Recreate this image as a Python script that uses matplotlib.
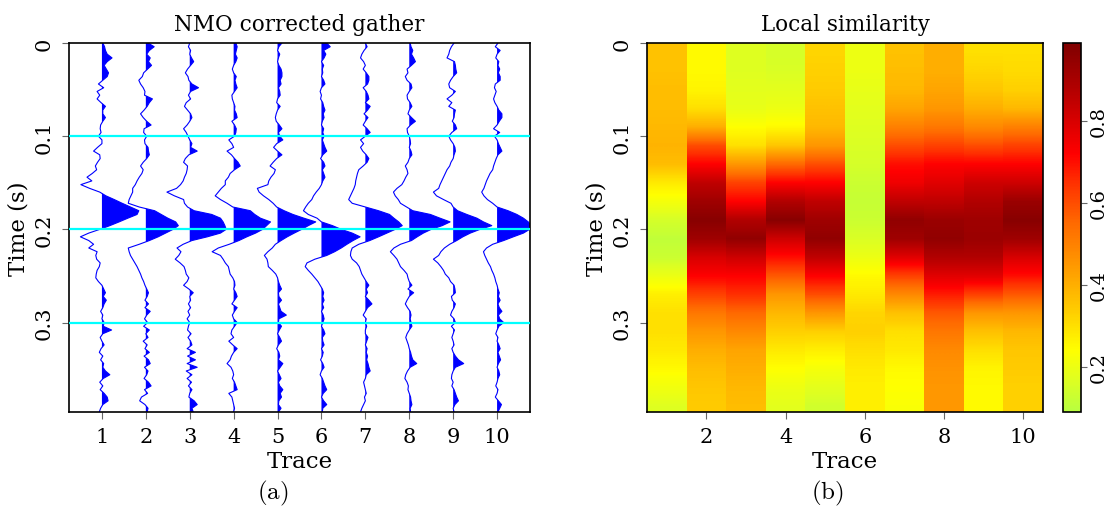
# NMO corrected gather and its local similarity

import numpy as np
import matplotlib.pyplot as plt
from matplotlib.colors import LinearSegmentedColormap

plt.rcParams['font.family'] = 'DejaVu Serif'
plt.rcParams['mathtext.fontset'] = 'cm'

dt = 0.004
ns = 100
t = np.arange(ns) * dt

# trace amplitudes (in units of trace spacing)
tr1 = [0.02, 0.06, 0.08, 0.12, 0.23, 0.12, 0.05, 0.10, 0.15, 0.12,
       0.02, -0.08, 0.04, -0.11, -0.05, -0.11, -0.02, 0.08, 0.02, 0.02,
       0.08, 0.02, -0.03, -0.04, -0.02, -0.08, 0.00, 0.00, -0.10, -0.19,
       -0.05, -0.04, -0.10, -0.15, -0.12, -0.22, -0.34, -0.23, -0.48, -0.28,
       -0.05, 0.09, 0.28, 0.46, 0.65, 0.84, 0.80, 0.59, 0.39, 0.18,
       -0.05, -0.30, -0.49, -0.30, -0.19, -0.30, -0.11, -0.14, -0.12, -0.04,
       -0.06, -0.11, -0.13, -0.14, -0.08, 0.00, 0.04, 0.08, 0.03, 0.10,
       0.05, 0.02, -0.03, 0.02, 0.00, 0.05, 0.03, 0.22, 0.02, -0.04,
       0.00, 0.05, -0.02, -0.06, 0.02, -0.03, 0.04, 0.02, 0.08, 0.18,
       0.03, -0.05, 0.02, -0.04, 0.05, 0.12, 0.14, 0.02, -0.03, -0.06]
tr2 = [0.05, 0.19, 0.08, 0.02, 0.10, 0.06, 0.13, 0.04, -0.05, -0.08,
       -0.16, -0.12, -0.06, -0.02, -0.03, 0.15, 0.08, 0.03, -0.04, -0.12,
       -0.06, 0.02, 0.12, -0.04, -0.05, 0.02, -0.03, -0.02, 0.05, 0.06,
       0.08, 0.02, -0.06, -0.12, -0.06, -0.09, -0.15, -0.20, -0.24, -0.30,
       -0.30, -0.34, -0.38, -0.40, -0.15, 0.20, 0.35, 0.50, 0.68, 0.74,
       0.62, 0.45, 0.28, 0.08, -0.15, -0.40, -0.38, -0.35, -0.30, -0.25,
       -0.20, -0.16, -0.12, -0.09, -0.05, -0.02, 0.02, 0.06, 0.03, -0.02,
       0.06, -0.02, 0.10, 0.02, -0.03, 0.04, -0.05, 0.08, 0.00, 0.05,
       -0.06, 0.03, -0.02, 0.08, -0.04, 0.06, 0.10, -0.03, 0.05, 0.02,
       -0.04, 0.06, 0.12, -0.03, 0.04, -0.10, -0.14, -0.02, 0.05, 0.03]
tr3 = [0.00, -0.03, 0.02, 0.00, 0.04, 0.09, 0.02, -0.05, -0.10, -0.04,
       -0.02, 0.05, 0.20, 0.02, -0.03, 0.02, -0.08, -0.12, -0.05, 0.02,
       0.05, 0.00, -0.06, -0.14, -0.08, -0.04, 0.00, 0.05, 0.02, 0.17,
       -0.02, -0.10, -0.14, -0.05, -0.06, -0.08, -0.12, -0.15, -0.21, -0.30,
       -0.52, -0.35, -0.14, -0.12, -0.05, 0.10, 0.50, 0.70, 0.76, 0.80,
       0.83, 0.70, 0.40, 0.05, -0.15, -0.29, -0.20, -0.25, -0.33, -0.22,
       -0.13, -0.10, -0.08, -0.02, -0.06, -0.14, -0.02, 0.08, 0.00, 0.02,
       -0.03, 0.02, -0.04, 0.00, -0.06, 0.00, -0.03, -0.05, 0.03, -0.04,
       0.02, 0.05, -0.06, 0.13, -0.05, 0.13, -0.06, 0.17, -0.08, 0.05,
       -0.06, 0.04, -0.03, 0.05, 0.00, -0.02, 0.10, 0.17, 0.05, 0.08]
tr4 = [0.05, 0.08, 0.06, 0.04, 0.08, 0.05, 0.00, -0.03, 0.00, 0.06,
       0.03, 0.05, 0.08, 0.02, -0.04, -0.03, 0.00, 0.03, 0.02, 0.06,
       0.08, -0.04, 0.02, 0.06, 0.05, 0.02, -0.11, -0.04, 0.00, -0.15,
       -0.05, 0.02, 0.10, 0.15, 0.02, -0.08, -0.12, -0.19, -0.19, -0.28,
       -0.35, -0.42, -0.30, -0.15, -0.02, 0.38, 0.48, 0.61, 0.84, 0.75,
       0.66, 0.50, 0.30, 0.12, -0.10, -0.35, -0.49, -0.30, -0.24, -0.19,
       -0.12, -0.10, -0.08, -0.02, 0.02, 0.03, 0.00, 0.05, 0.08, 0.02,
       -0.04, 0.08, 0.02, -0.03, 0.00, 0.08, 0.02, -0.04, -0.06, 0.00,
       -0.11, -0.02, 0.08, 0.00, -0.05, -0.08, -0.15, -0.06, -0.02, 0.00,
       -0.03, 0.02, 0.05, 0.08, -0.11, -0.04, -0.02, 0.00, 0.02, 0.00]
tr5 = [0.10, 0.03, 0.00, 0.05, 0.02, 0.00, 0.03, 0.08, 0.10, 0.10,
       0.06, 0.08, 0.02, 0.05, 0.06, 0.00, -0.02, 0.06, 0.00, -0.03,
       -0.05, -0.03, 0.04, 0.10, 0.02, 0.05, 0.12, -0.02, -0.09, 0.00,
       0.10, -0.02, -0.10, -0.17, -0.05, -0.08, -0.15, -0.20, -0.22, -0.46,
       -0.42, -0.32, -0.20, -0.10, -0.02, 0.15, 0.35, 0.60, 0.87, 0.70,
       0.55, 0.38, 0.22, 0.08, -0.05, -0.12, -0.22, -0.30, -0.24, -0.22,
       -0.21, -0.12, -0.04, 0.00, 0.02, 0.05, 0.09, 0.02, 0.03, 0.09,
       0.02, 0.05, 0.08, 0.20, 0.03, 0.02, 0.09, 0.04, 0.00, 0.05,
       0.09, 0.02, -0.02, 0.03, 0.05, 0.02, 0.12, 0.06, 0.00, 0.04,
       0.08, 0.02, 0.05, 0.12, 0.06, 0.09, 0.03, 0.02, 0.08, 0.02]
tr6 = [0.12, 0.20, 0.05, 0.10, 0.06, 0.00, 0.05, 0.02, 0.03, 0.00,
       0.05, 0.08, 0.00, -0.03, 0.00, -0.02, 0.03, 0.05, 0.08, 0.04,
       0.06, 0.02, 0.00, 0.05, 0.03, 0.06, 0.02, 0.05, 0.08, 0.12,
       0.03, -0.02, 0.05, 0.08, 0.02, 0.05, 0.08, 0.03, 0.00, -0.05,
       -0.12, -0.18, -0.22, -0.30, -0.36, -0.41, -0.30, -0.10, 0.00, 0.25,
       0.45, 0.70, 0.88, 0.72, 0.58, 0.45, 0.30, 0.12, -0.15, -0.33,
       -0.37, -0.30, -0.22, -0.15, -0.08, -0.03, 0.02, 0.05, 0.03, 0.06,
       0.02, 0.05, 0.00, 0.04, 0.06, 0.03, 0.00, 0.05, 0.08, 0.02,
       0.03, 0.06, 0.00, 0.04, 0.02, -0.02, 0.03, 0.06, 0.00, -0.03,
       0.02, 0.05, 0.08, 0.12, 0.04, 0.00, 0.05, 0.12, 0.03, 0.02]
tr7 = [0.00, 0.04, -0.03, -0.08, -0.11, -0.04, 0.00, -0.05, 0.02, 0.08,
       0.08, 0.05, -0.05, 0.02, 0.06, 0.08, 0.00, 0.11, 0.05, -0.03,
       0.06, 0.00, -0.05, 0.04, 0.11, 0.00, -0.11, -0.04, -0.11, -0.06,
       0.02, 0.08, 0.04, -0.05, -0.15, -0.18, -0.20, -0.22, -0.23, -0.26,
       -0.30, -0.34, -0.38, -0.30, 0.00, 0.30, 0.55, 0.65, 0.76, 0.84,
       0.68, 0.49, 0.30, 0.10, -0.15, -0.30, -0.33, -0.34, -0.30, -0.20,
       -0.14, -0.11, -0.08, -0.03, 0.02, 0.08, 0.02, 0.05, 0.00, 0.08,
       0.15, 0.05, 0.00, -0.05, 0.02, 0.00, 0.03, 0.00, 0.00, 0.06,
       0.03, 0.00, 0.04, 0.02, 0.05, 0.03, 0.06, 0.08, 0.11, 0.02,
       0.00, -0.04, -0.02, 0.00, 0.02, -0.02, 0.00, -0.04, -0.08, -0.11]
tr8 = [0.02, 0.04, 0.08, 0.05, 0.10, 0.14, 0.05, -0.05, -0.03, -0.09,
       -0.05, 0.04, 0.06, 0.00, -0.05, -0.04, 0.02, 0.06, 0.00, -0.03,
       0.05, 0.14, 0.03, -0.05, -0.04, 0.00, 0.02, 0.03, 0.00, 0.04,
       0.06, 0.00, -0.03, -0.09, -0.05, -0.03, -0.08, -0.12, -0.17, -0.28,
       -0.36, -0.32, -0.25, -0.20, -0.06, 0.08, 0.48, 0.70, 0.93, 0.75,
       0.50, 0.32, 0.18, 0.05, -0.20, -0.35, -0.43, -0.35, -0.28, -0.24,
       -0.20, -0.12, -0.05, -0.03, 0.00, 0.06, -0.03, 0.10, 0.00, -0.05,
       -0.09, -0.04, 0.02, 0.04, 0.02, 0.04, 0.06, 0.00, -0.05, -0.08,
       -0.05, -0.02, 0.00, 0.03, 0.05, 0.08, 0.17, 0.02, -0.04, -0.08,
       -0.10, -0.05, -0.02, -0.03, 0.00, 0.03, 0.04, 0.06, 0.02, 0.03]
tr9 = [0.02, -0.04, -0.08, -0.10, -0.14, 0.03, 0.05, 0.06, 0.08, 0.00,
       -0.06, -0.10, -0.08, 0.05, -0.03, -0.14, -0.03, -0.10, 0.05, 0.03,
       0.02, -0.02, 0.05, 0.08, -0.03, -0.10, -0.06, 0.00, 0.04, 0.05,
       0.02, 0.00, -0.05, -0.08, -0.14, -0.18, -0.22, -0.26, -0.30, -0.33,
       -0.45, -0.38, -0.22, -0.05, 0.00, 0.10, 0.31, 0.54, 0.69, 0.88,
       0.61, 0.39, 0.22, 0.08, -0.08, -0.20, -0.28, -0.33, -0.45, -0.35,
       -0.28, -0.22, -0.18, -0.10, -0.06, 0.02, 0.04, 0.05, -0.04, -0.02,
       0.05, 0.02, -0.03, -0.06, 0.02, 0.05, -0.04, 0.03, 0.00, -0.03,
       0.00, 0.02, -0.03, 0.00, 0.05, 0.12, 0.24, 0.05, 0.00, -0.03,
       -0.04, 0.00, -0.03, 0.02, 0.05, 0.08, 0.12, 0.04, 0.00, 0.02]
tr10 = [0.02, -0.04, 0.07, 0.00, -0.03, 0.04, 0.02, 0.06, 0.03, 0.07,
        0.07, -0.04, -0.06, -0.02, -0.05, -0.08, -0.05, 0.00, 0.04, 0.11,
        0.11, 0.05, 0.00, -0.08, 0.06, -0.06, 0.00, 0.03, 0.07, 0.11,
        0.02, -0.02, -0.05, -0.08, -0.10, -0.16, -0.20, -0.24, -0.27, -0.30,
        -0.35, -0.30, -0.22, -0.10, 0.00, 0.25, 0.45, 0.60, 0.71, 0.78,
        0.74, 0.60, 0.37, 0.15, -0.10, -0.24, -0.31, -0.28, -0.24, -0.20,
        -0.15, -0.12, -0.08, -0.05, -0.03, 0.00, 0.02, 0.05, 0.03, 0.07,
        0.02, 0.05, 0.11, 0.03, 0.06, 0.15, 0.04, 0.00, -0.03, 0.02,
        0.00, 0.04, 0.07, 0.02, 0.05, 0.08, 0.03, 0.00, 0.04, 0.06,
        0.02, 0.00, -0.03, 0.02, 0.00, -0.04, 0.03, 0.10, 0.06, 0.02]
traces = [tr1, tr2, tr3, tr4, tr5, tr6, tr7, tr8, tr9, tr10]

# local similarity, one list per trace, samples at t = 0.01, 0.03, ..., 0.39 s
t_sim = np.arange(20) * 0.02 + 0.01
sim1 = [0.36, 0.36, 0.37, 0.37, 0.38, 0.39, 0.37, 0.28, 0.22, 0.15,
        0.11, 0.13, 0.20, 0.27, 0.30, 0.30, 0.28, 0.25, 0.21, 0.17]
sim2 = [0.25, 0.25, 0.26, 0.30, 0.40, 0.60, 0.72, 0.85, 0.92, 0.97,
        0.92, 0.80, 0.72, 0.62, 0.52, 0.45, 0.40, 0.37, 0.35, 0.34]
sim3 = [0.17, 0.17, 0.18, 0.19, 0.24, 0.30, 0.45, 0.62, 0.72, 0.88,
        0.95, 0.82, 0.72, 0.65, 0.55, 0.48, 0.42, 0.40, 0.38, 0.37]
sim4 = [0.15, 0.16, 0.18, 0.20, 0.25, 0.35, 0.55, 0.72, 0.88, 0.97,
        0.82, 0.70, 0.58, 0.45, 0.38, 0.33, 0.28, 0.24, 0.20, 0.18]
sim5 = [0.32, 0.33, 0.34, 0.36, 0.38, 0.45, 0.60, 0.72, 0.85, 0.92,
        0.95, 0.85, 0.72, 0.60, 0.45, 0.33, 0.27, 0.22, 0.18, 0.14]
sim6 = [0.20, 0.20, 0.19, 0.18, 0.17, 0.16, 0.15, 0.13, 0.12, 0.13,
        0.16, 0.20, 0.25, 0.28, 0.32, 0.33, 0.30, 0.28, 0.27, 0.27]
sim7 = [0.36, 0.37, 0.38, 0.42, 0.50, 0.60, 0.70, 0.75, 0.85, 0.95,
        0.92, 0.78, 0.62, 0.48, 0.36, 0.30, 0.28, 0.25, 0.24, 0.23]
sim8 = [0.40, 0.40, 0.42, 0.45, 0.52, 0.62, 0.72, 0.78, 0.85, 0.93,
        0.95, 0.88, 0.78, 0.68, 0.58, 0.52, 0.48, 0.46, 0.45, 0.45]
sim9 = [0.30, 0.32, 0.35, 0.40, 0.48, 0.60, 0.72, 0.82, 0.88, 0.92,
        0.93, 0.88, 0.78, 0.62, 0.45, 0.36, 0.30, 0.26, 0.25, 0.25]
sim10 = [0.30, 0.31, 0.33, 0.38, 0.50, 0.62, 0.72, 0.82, 0.93, 0.97,
         0.92, 0.80, 0.70, 0.58, 0.45, 0.38, 0.35, 0.34, 0.33, 0.33]
sims = [sim1, sim2, sim3, sim4, sim5, sim6, sim7, sim8, sim9, sim10]

vmin, vmax = 0.09, 0.99
nodes = [(0.09, '#b8ff40'), (0.17, '#e0ff20'), (0.24, '#ffff00'),
         (0.33, '#ffd000'), (0.42, '#ffa500'), (0.55, '#ff6a00'),
         (0.65, '#ff3000'), (0.72, '#ff0000'), (0.85, '#c00000'),
         (0.99, '#800000')]
cmap = LinearSegmentedColormap.from_list(
    'simi', [((v - vmin) / (vmax - vmin), c) for v, c in nodes])

fig = plt.figure(figsize=(11.12, 5.10), dpi=100)
ax1 = fig.add_axes([69/1112, 97/510, 461/1112, 369/510])
ax2 = fig.add_axes([647/1112, 97/510, 396/1112, 369/510])
cax = fig.add_axes([1063/1112, 97/510, 18/1112, 369/510])

# (a) wiggle plot
for k, tr in enumerate(traces, start=1):
    a = np.array(tr)
    ax1.fill_betweenx(t, k, k + a, where=a > 0, interpolate=True,
                      color='blue', lw=0)
    ax1.plot(k + a, t, color='blue', lw=0.8)
for tl in [0.1, 0.2, 0.3]:
    ax1.axhline(tl, color='cyan', lw=1.6, zorder=5)
ax1.set_xlim(0.25, 10.75)
ax1.set_ylim(0.396, 0)
ax1.set_xticks(range(1, 11))
ax1.set_yticks([0, 0.1, 0.2, 0.3])
ax1.set_yticklabels(['0', '0.1', '0.2', '0.3'], rotation=90, va='center')
ax1.set_title('NMO corrected gather', fontsize=15.5, pad=9)
ax1.set_xlabel('Trace', fontsize=16.5, labelpad=3)
ax1.set_ylabel('Time (s)', fontsize=16.5, labelpad=4)

# (b) local similarity
for k, s in enumerate(sims, start=1):
    col = np.array(s).reshape(-1, 1)
    im = ax2.imshow(col, cmap=cmap, vmin=vmin, vmax=vmax, aspect='auto',
                    interpolation='bilinear',
                    extent=[k - 0.5, k + 0.5, t_sim[-1] + 0.01, 0])
ax2.set_xlim(0.5, 10.5)
ax2.set_ylim(0.396, 0)
ax2.set_xticks([2, 4, 6, 8, 10])
ax2.set_yticks([0, 0.1, 0.2, 0.3])
ax2.set_yticklabels(['0', '0.1', '0.2', '0.3'], rotation=90, va='center')
ax2.set_title('Local similarity', fontsize=15.5, pad=9)
ax2.set_xlabel('Trace', fontsize=16.5, labelpad=3)
ax2.set_ylabel('Time (s)', fontsize=16.5, labelpad=4)

cb = fig.colorbar(im, cax=cax)
cb.set_ticks([0.2, 0.4, 0.6, 0.8])
cb.ax.set_yticklabels(['0.2', '0.4', '0.6', '0.8'], rotation=90, va='center')
cb.outline.set_linewidth(1)

for ax in [ax1, ax2]:
    ax.tick_params(labelsize=15, length=5, color='0.4', pad=6)
cax.tick_params(labelsize=14, length=4, color='0.4', pad=2)
for ax in [ax1, ax2, cax]:
    for sp in ax.spines.values():
        sp.set_linewidth(1.2)

fig.text(273/1112, 1 - 493/510, r'$\mathrm{(a)}$', ha='center', va='center', fontsize=18)
fig.text(827/1112, 1 - 493/510, r'$\mathrm{(b)}$', ha='center', va='center', fontsize=18)

plt.savefig('out.png', dpi=100)
